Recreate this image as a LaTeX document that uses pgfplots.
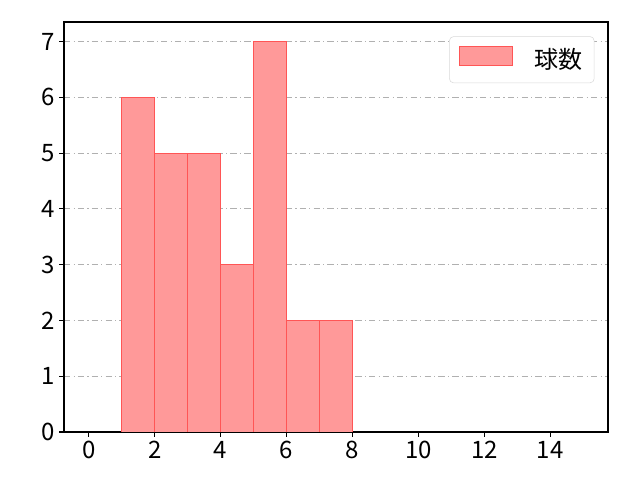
\documentclass[border=0pt]{standalone}
\usepackage{fontspec}
\setmainfont{Noto Sans CJK JP}
\usepackage{pgfplots}
\pgfplotsset{compat=1.18}
\definecolor{barfill}{HTML}{FF9999}
\definecolor{baredge}{HTML}{FF5555}
\definecolor{gridgray}{HTML}{B0B0B0}
\begin{document}
\begin{tikzpicture}
\begin{axis}[
    scale only axis,
    width=408pt,
    height=307.5pt,
    xmin=-0.75, xmax=15.75,
    ymin=0, ymax=7.35,
    xtick={0,2,...,14},
    ytick={0,1,...,7},
    tick pos=left,
    tick align=outside,
    major tick length=3.6pt,
    axis line style={line width=0.85pt},
    every tick/.style={black,line width=0.85pt},
    ymajorgrids,
    grid style={gridgray,line width=0.6pt,dash pattern=on 4.8pt off 2.4pt on 0.8pt off 2.4pt},
    tick label style={font=\fontsize{18}{20}\selectfont},
    /pgf/number format/assume math mode=true,
    legend style={at={(0.975,0.965)},anchor=north east,draw=gray!30,rounded corners=3pt,
        font=\fontsize{18}{20}\selectfont,inner xsep=7pt,inner ysep=7pt},
    legend cell align=left,
    legend image code/.code={\draw[#1,sharp corners] (0pt,-4pt) rectangle (40pt,10pt);},
    legend style={/tikz/every even column/.append style={column sep=6pt}},
]
\addplot[ybar interval, fill=barfill, draw=baredge, line width=0.5pt] coordinates {
    (1,6) (2,5) (3,5) (4,3) (5,7) (6,2) (7,2) (8,2)
};
\addlegendentry{\hspace{14pt}球数}
\end{axis}
\path ([shift={(-48pt,-36pt)}]current axis.south west) rectangle ([shift={(24pt,16.5pt)}]current axis.north east);
\end{tikzpicture}
\end{document}
